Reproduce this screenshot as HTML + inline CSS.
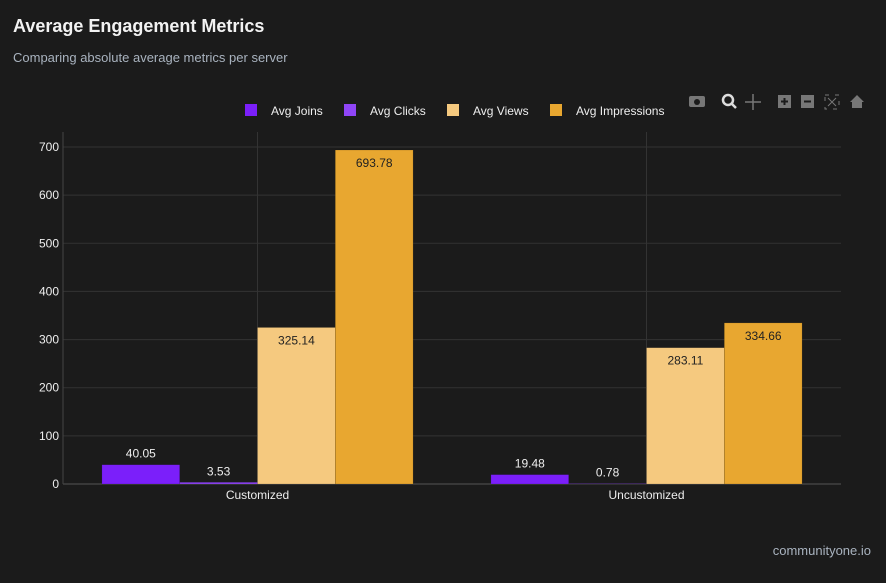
<!DOCTYPE html>
<html><head><meta charset="utf-8"><style>
body{margin:0;background:#1b1b1b;width:886px;height:578px;overflow:hidden;font-family:"Liberation Sans",sans-serif}
svg text{font-family:"Liberation Sans",sans-serif}
</style></head><body>
<svg width="886" height="578">
<rect width="886" height="578" fill="#1b1b1b"/>
<text x="13" y="32" fill="#f2f2f2" font-size="18" font-weight="bold">Average Engagement Metrics</text>
<text x="13" y="62" fill="#a9b3bf" font-size="13">Comparing absolute average metrics per server</text>
<g id="legend"></g>
<g id="toolbar" fill="#777">
<rect x="689" y="96" width="16" height="11" rx="2"/><circle cx="697" cy="102" r="3" fill="#1b1b1b"/>
<circle cx="728" cy="100" r="5" fill="none" stroke="#ddd" stroke-width="2.5"/><line x1="732" y1="104" x2="736" y2="108" stroke="#ddd" stroke-width="2.5"/>
<path d="M753 94v16M745 102h16" stroke="#777" stroke-width="1.5"/>
<rect x="778" y="95" width="13" height="13"/><path d="M781 101.5h7M784.5 98v7" stroke="#1b1b1b" stroke-width="2"/>
<rect x="801" y="95" width="13" height="13"/><path d="M804 101.5h7" stroke="#1b1b1b" stroke-width="2"/>
<rect x="825" y="95" width="14" height="14" fill="none" stroke="#777" stroke-dasharray="4 6"/><path d="M828 98l8 8M836 98l-8 8" stroke="#777"/>
<path d="M850 102l7-7 7 7h-2v6h-10v-6z"/>
</g>
<g id="plot"></g>
<text x="871" y="555" fill="#a9b3bf" font-size="13" text-anchor="end">communityone.io</text>
</svg>
<script>
const categories=["Customized","Uncustomized"];
const seriesNames=["Avg Joins","Avg Clicks","Avg Views","Avg Impressions"];
const joins=[40.05,19.48];
const clicks=[3.53,0.78];
const views=[325.14,283.11];
const impressions=[693.78,334.66];
const yTicks=[0,100,200,300,400,500,600,700];
const colors=["#7b1ffa","#8f45f7","#f5c97f","#e8a730"];
const series=[joins,clicks,views,impressions];
const NS="http://www.w3.org/2000/svg";
const L=63,R=841,B=484,T=132;
const y=v=>B-v*(484-147)/700;
const band=(R-L)/categories.length;
const x=i=>L+band*(i+0.5);
const bw=band*0.8/series.length;
function el(t,a,p){const e=document.createElementNS(NS,t);for(const k in a)e.setAttribute(k,a[k]);p.appendChild(e);return e;}
const plot=document.getElementById('plot');
yTicks.forEach(v=>{
 const g=el('line',{x1:L,x2:R,y1:y(v),y2:y(v),stroke:v===0?'#555':'#333'},plot);
 
 
 const t=el('text',{x:L-4,y:y(v)+4,fill:'#eee','font-size':12,'text-anchor':'end'},plot);t.textContent=v;
 
 
});
const ax=el('line',{x1:L,x2:L,y1:T,y2:B,stroke:'#444'},plot);


categories.forEach((c,i)=>{
 const g=el('line',{x1:x(i),x2:x(i),y1:T,y2:B,stroke:'#333'},plot);
 
 
 const t=el('text',{x:x(i),y:B+15,fill:'#eee','font-size':12,'text-anchor':'middle'},plot);t.textContent=c;
 
 
});
series.forEach((s,j)=>{
 s.forEach((v,i)=>{
  const bx=x(i)-band*0.4+j*bw;
  const r=el('rect',{x:bx,y:y(v),width:bw,height:B-y(v),fill:colors[j],stroke:'rgba(0,0,0,0.25)','stroke-width':0.5},plot);
  
  
  const inside=(B-y(v))>30;
  const t=el('text',{x:bx+bw/2,y:inside?y(v)+17:y(v)-7,fill:inside?'#222':'#eee','font-size':12,'text-anchor':'middle'},plot);
  t.textContent=v.toFixed(2);
  
  
 });
});
const leg=document.getElementById('legend');
const lx=[245,344,447,550];
seriesNames.forEach((n,j)=>{
 const r=el('rect',{x:lx[j],y:104,width:12,height:12,fill:colors[j]},leg);
 
 
 const t=el('text',{x:lx[j]+26,y:115,fill:'#eee','font-size':12},leg);t.textContent=n;
 
 
});
</script>
</body></html>
